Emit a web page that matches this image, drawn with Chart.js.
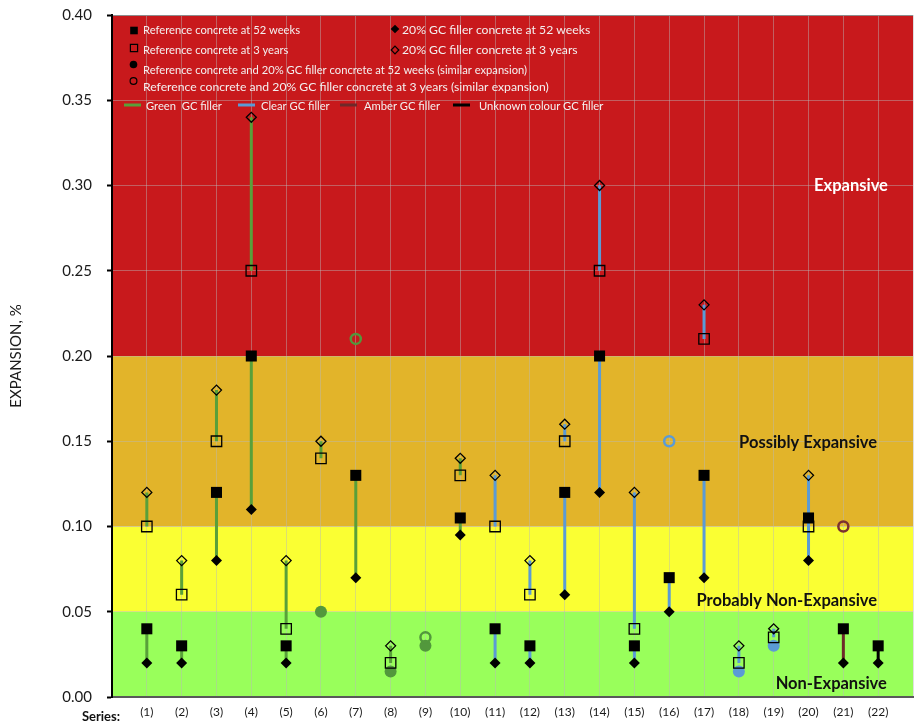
<!DOCTYPE html>
<html>
<head>
<meta charset="utf-8">
<title>Expansion of concrete with GC filler</title>
<script src="https://cdn.jsdelivr.net/npm/chart.js@4.4.1/dist/chart.umd.min.js"></script>
<style>
  html, body { margin: 0; padding: 0; background: #fff; }
  #wrap { width: 914px; height: 722px; }
</style>
</head>
<body>
<div id="wrap"><canvas id="expChart" width="914" height="722"></canvas></div>
<script>
/*  Expansion chart — reference vs 20% GC filler concrete  */

/* ====== DATA ====== */
var seriesLabels = ["(1)", "(2)", "(3)", "(4)", "(5)", "(6)", "(7)", "(8)", "(9)", "(10)", "(11)",
                    "(12)", "(13)", "(14)", "(15)", "(16)", "(17)", "(18)", "(19)", "(20)", "(21)", "(22)"];
var fillerColour = ["Green", "Green", "Green", "Green", "Green", "Green", "Green", "Green", "Green", "Green",
                    "Clear", "Clear", "Clear", "Clear", "Clear", "Clear", "Clear", "Clear", "Clear", "Clear",
                    "Amber", "Unknown"];

// expansion, %
var ref52     = [0.04, 0.03, 0.12, 0.20, 0.03, null, 0.13, null, null, 0.105, 0.04, 0.03, 0.12, 0.20, 0.03, 0.07, 0.13, null, null, 0.105, 0.04, 0.03];
var gc52      = [0.02, 0.02, 0.08, 0.11, 0.02, null, 0.07, null, null, 0.095, 0.02, 0.02, 0.06, 0.12, 0.02, 0.05, 0.07, null, null, 0.08, 0.02, 0.02];
var ref3y     = [0.10, 0.06, 0.15, 0.25, 0.04, 0.14, null, 0.02, null, 0.13, 0.10, 0.06, 0.15, 0.25, 0.04, null, 0.21, 0.02, 0.035, 0.10, null, null];
var gc3y      = [0.12, 0.08, 0.18, 0.34, 0.08, 0.15, null, 0.03, null, 0.14, 0.13, 0.08, 0.16, 0.30, 0.12, null, 0.23, 0.03, 0.04, 0.13, null, null];
var similar52 = [null, null, null, null, null, 0.05, null, 0.015, 0.03, null, null, null, null, null, null, null, null, 0.015, 0.03, null, null, null];
var similar3y = [null, null, null, null, null, null, 0.21, null, 0.035, null, null, null, null, null, null, 0.15, null, null, null, null, 0.10, null];

var bandLimits = [0, 0.05, 0.10, 0.20, 0.40];
var bandNames  = ["Non-Expansive", "Probably Non-Expansive", "Possibly Expansive", "Expansive"];
var yTicks     = [0, 0.05, 0.10, 0.15, 0.20, 0.25, 0.30, 0.35, 0.40];

/* ====== STYLE ====== */
var FONT = "Lato";
var bandColours = ["#99FF5B", "#FAFF33", "#E2B42A", "#C8191C"];
var lineColours = { Green: "#59A03A", Clear: "#5B9BD5", Amber: "#6E2A2A", Unknown: "#000000" };
var dotColours  = { Green: "#52983C", Clear: "#5B9BD5", Amber: "#7B3030", Unknown: "#000000" };
var gridColour  = "rgba(185,185,185,0.45)";

/* ====== HELPERS ====== */
function segments(colour) {
    var pts = [];
    for (var i = 0; i < seriesLabels.length; i++) {
        if (fillerColour[i] !== colour) continue;
        var x = i + 1;
        if (ref52[i] !== null && gc52[i] !== null)
            pts.push({ x: x, y: ref52[i] }, { x: x, y: gc52[i] }, { x: x, y: null });
        if (ref3y[i] !== null && gc3y[i] !== null)
            pts.push({ x: x, y: ref3y[i] }, { x: x, y: gc3y[i] }, { x: x, y: null });
    }
    return pts;
}

function points(values) {
    var pts = [];
    values.forEach(function (v, i) { if (v !== null) pts.push({ x: i + 1, y: v }); });
    return pts;
}

function lineSet(colour) {
    return {
        label: colour, data: segments(colour), showLine: true, spanGaps: false,
        borderColor: lineColours[colour], borderWidth: 3, pointRadius: 0, order: 10
    };
}

/* ====== PLUGINS ====== */
var bandPlugin = {
    id: "bands",
    beforeDraw: function (chart) {
        var ctx = chart.ctx, a = chart.chartArea, ys = chart.scales.y;
        ctx.save();
        ctx.fillStyle = "#fff";
        ctx.fillRect(0, 0, chart.width, chart.height);
        for (var i = 0; i < bandColours.length; i++) {
            var top = ys.getPixelForValue(bandLimits[i + 1]);
            var bot = ys.getPixelForValue(bandLimits[i]);
            ctx.fillStyle = bandColours[i];
            ctx.fillRect(a.left, top, a.right - a.left, bot - top);
        }
        ctx.restore();
    }
};

function marker(ctx, kind, x, y, r) {
    ctx.beginPath();
    if (kind === "sq") ctx.rect(x - r, y - r, 2 * r, 2 * r);
    else if (kind === "di") { ctx.moveTo(x, y - r); ctx.lineTo(x + r, y); ctx.lineTo(x, y + r); ctx.lineTo(x - r, y); ctx.closePath(); }
    else ctx.arc(x, y, r, 0, Math.PI * 2);
}

var overlayPlugin = {
    id: "overlay",
    afterDraw: function (chart) {
        var ctx = chart.ctx, a = chart.chartArea, xs = chart.scales.x, ys = chart.scales.y;
        var L = a.left, T = a.top;
        ctx.save();

        // band names
        var bandPos = [[22.25, 0.008, "#111"], [21.97, 0.0563, "#111"], [21.97, 0.149, "#111"], [22.28, 0.30, "#fff"]];
        ctx.font = "bold 16.5px " + FONT;
        ctx.textAlign = "right";
        ctx.textBaseline = "middle";
        bandNames.forEach(function (name, i) {
            ctx.fillStyle = bandPos[i][2];
            ctx.fillText(name, xs.getPixelForValue(bandPos[i][0]), ys.getPixelForValue(bandPos[i][1]));
        });

        // legend (inside plot, top)
        ctx.textAlign = "left";
        ctx.strokeStyle = "#000";
        ctx.lineWidth = 1.2;
        var small = "11.2px " + FONT, big = "12.2px " + FONT;
        var rows = [
            ["sq", true, 22, 15.5, 3.8, "Reference concrete at 52 weeks", 31, 15.5, small],
            ["sq", false, 22, 33, 3.6, "Reference concrete at 3 years", 31, 35.5, small],
            ["ci", true, 21.5, 49.5, 3.8, "Reference concrete and 20% GC filler concrete at 52 weeks (similar expansion)", 31, 55, small],
            ["ci", false, 21.5, 66, 3.4, "Reference concrete and 20% GC filler concrete at 3 years (similar expansion)", 31, 72.5, big],
            ["di", true, 283, 14, 4.3, "20% GC filler concrete at 52 weeks", 290, 15.5, big],
            ["di", false, 283, 35, 3.8, "20% GC filler concrete at 3 years", 290, 35.5, big]
        ];
        rows.forEach(function (r) {
            marker(ctx, r[0], L + r[2], T + r[3], r[4]);
            if (r[1]) { ctx.fillStyle = "#000"; ctx.fill(); }
            else ctx.stroke();
            ctx.fillStyle = "#F4F0F0";
            ctx.font = r[8];
            ctx.fillText(r[5], L + r[6], T + r[7]);
        });
        var lineKeys = [["Green", "Green  GC filler", 12, 34], ["Clear", "Clear GC filler", 126, 149],
                        ["Amber", "Amber GC filler", 228, 252], ["Unknown", "Unknown colour GC filler", 341, 367]];
        ctx.font = small;
        lineKeys.forEach(function (k) {
            ctx.strokeStyle = lineColours[k[0]];
            ctx.lineWidth = 3;
            ctx.beginPath();
            ctx.moveTo(L + k[2], T + 90);
            ctx.lineTo(L + k[2] + 17, T + 90);
            ctx.stroke();
            ctx.fillStyle = "#F4F0F0";
            ctx.fillText(k[1], L + k[3], T + 91);
        });

        // "Series:" caption left of category labels
        ctx.font = "bold 13px " + FONT;
        ctx.fillStyle = "#111";
        ctx.textAlign = "center";
        ctx.fillText("Series:", L - 11, a.bottom + 20);
        ctx.restore();
    }
};

/* ====== CHART ====== */
var chart = new Chart(document.getElementById("expChart").getContext("2d"), {
    type: "scatter",
    data: {
        datasets: [
            lineSet("Green"), lineSet("Clear"), lineSet("Amber"), lineSet("Unknown"),
            {
                label: "Similar 52 weeks", data: points(similar52), order: 8,
                pointStyle: "circle", pointRadius: 6, borderWidth: 0,
                backgroundColor: function (c) { return c.raw ? dotColours[fillerColour[c.raw.x - 1]] : "#000"; }
            },
            {
                label: "Similar 3 years", data: points(similar3y), order: 7,
                pointStyle: "circle", pointRadius: 5, borderWidth: 2.5, backgroundColor: "rgba(0,0,0,0)",
                borderColor: function (c) { return c.raw ? dotColours[fillerColour[c.raw.x - 1]] : "#000"; }
            },
            {
                label: "Reference 3 years", data: points(ref3y), order: 5,
                pointStyle: "rect", pointRadius: 7.4, borderWidth: 1.3,
                borderColor: "#000", backgroundColor: "rgba(0,0,0,0)"
            },
            {
                label: "GC 3 years", data: points(gc3y), order: 4,
                pointStyle: "rectRot", pointRadius: 5, borderWidth: 1.3,
                borderColor: "#000", backgroundColor: "rgba(0,0,0,0)"
            },
            {
                label: "Reference 52 weeks", data: points(ref52), order: 3,
                pointStyle: "rect", pointRadius: 7.8, borderWidth: 0,
                backgroundColor: "#000"
            },
            {
                label: "GC 52 weeks", data: points(gc52), order: 2,
                pointStyle: "rectRot", pointRadius: 5.5, borderWidth: 0,
                backgroundColor: "#000"
            }
        ]
    },
    options: {
        responsive: false,
        animation: false,
        layout: { autoPadding: false, padding: { top: 15, right: 1, left: 0, bottom: 0 } },
        plugins: { legend: { display: false }, tooltip: { enabled: false } },
        scales: {
            x: {
                type: "linear", min: 0, max: seriesLabels.length + 1,
                afterFit: function (s) { s.height = 25; s.paddingLeft = 0; s.paddingRight = 0; },
                afterBuildTicks: function (s) {
                    s.ticks = [];
                    for (var i = 0; i <= seriesLabels.length + 1; i++) s.ticks.push({ value: i });
                },
                ticks: {
                    autoSkip: false, maxRotation: 0, padding: 8, color: "#1a1a1a",
                    font: { family: FONT, size: 12 },
                    callback: function (v) { return seriesLabels[v - 1] || ""; }
                },
                grid: { color: gridColour, lineWidth: 1, drawTicks: false },
                border: { color: "#595959", width: 2 }
            },
            y: {
                min: 0, max: 0.4,
                afterFit: function (s) { s.width = 112; s.paddingTop = 0; s.paddingBottom = 0; },
                afterBuildTicks: function (s) {
                    s.ticks = yTicks.map(function (v) { return { value: v }; });
                },
                ticks: {
                    padding: 15, color: "#1a1a1a", font: { family: FONT, size: 15 },
                    callback: function (v) { return v.toFixed(2); }
                },
                grid: {
                    color: function (c) { return c.tick && c.tick.value === 0.4 ? "#8c8c8c" : gridColour; },
                    tickLength: 5, tickColor: "#000", tickWidth: 2
                },
                border: { color: "#000", width: 2 },
                title: {
                    display: true, text: "EXPANSION, %", color: "#1a1a1a",
                    font: { family: FONT, size: 15 }, padding: { top: 7, bottom: 0 }
                }
            }
        }
    },
    plugins: [bandPlugin, overlayPlugin]
});
</script>
</body>
</html>
